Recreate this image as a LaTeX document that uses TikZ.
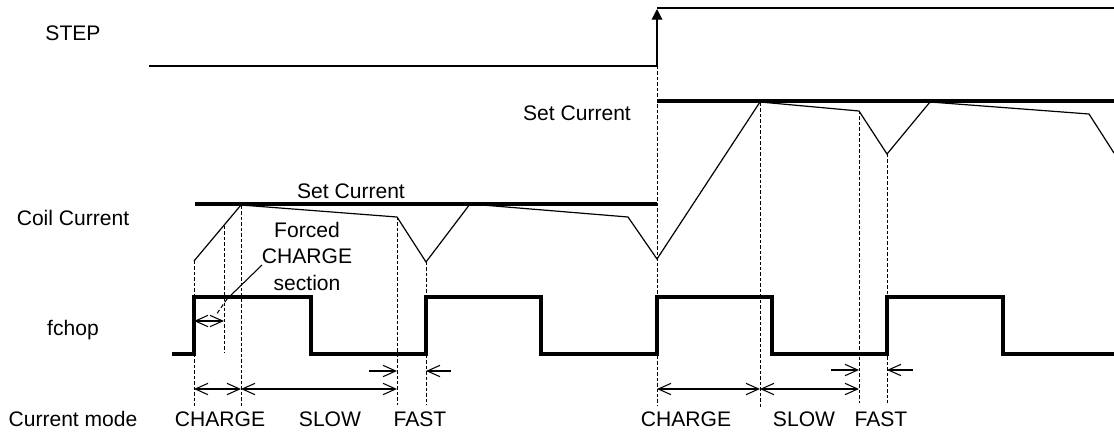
\documentclass[tikz,border=0pt]{standalone}
\usepackage{fontspec}
\setmainfont{Liberation Sans}
\usetikzlibrary{arrows.meta}
\begin{document}
\begin{tikzpicture}[x=0.75pt,y=-0.75pt,
  lbl/.style={font=\fontsize{15.8}{18}\selectfont, inner sep=0pt},
  thin/.style={line width=0.9pt, line join=miter},
  thick2/.style={line width=2.3pt},
  guide/.style={line width=0.7pt, dash pattern=on 2.6pt off 1.5pt},
  dim/.style={line width=0.8pt, {Straight Barb[length=9.5pt,width=8.5pt]}-{Straight Barb[length=9.5pt,width=8.5pt]}},
  dimr/.style={line width=0.8pt, -{Straight Barb[length=9.5pt,width=8.5pt]}}]
\useasboundingbox (0,0) rectangle (1114,433);
% labels
\node[lbl] (lstep) at (73,33) {STEP};
\node[lbl] (lcoil) at (73,218) {Coil Current};
\node[lbl] (lfchop) at (73,330) {fchop};
\node[lbl] (lmode) at (73,419) {Current mode};
% STEP signal
\coordinate (s0) at (149,66);
\coordinate (s1) at (657,66);
\coordinate (s2) at (657,9);
\coordinate (s3) at (657,8);
\coordinate (s4) at (1114,8);
\draw[thin] (s0) -- (s1);
\draw[thin,-{Triangle[length=8pt,width=8pt]}] (s1) -- (s2);
\draw[thin] (s3) -- (s4);
% set current lines
\draw[thick2] (195,204) -- (657,204);
\draw[thick2] (657,101) -- (1114,101);
\node[lbl] (sc1) at (351,191) {Set Current};
\node[lbl] (sc2) at (577,113) {Set Current};
% coil current
\draw[thin] (194,261) -- (241,205) -- (397,217) -- (426,262) -- (470,204) -- (628,217) -- (657,259)
  -- (760,102) -- (859,111) -- (887,154) -- (930,102) -- (1089,114) -- (1114,153);
% fchop
\draw[thick2] (172,354) -- (194,354) -- (194,297) -- (311,297) -- (311,354) -- (426,354) -- (426,297)
  -- (541,297) -- (541,354) -- (657,354) -- (657,297) -- (772,297) -- (772,354) -- (887,354)
  -- (887,297) -- (1003,297) -- (1003,354) -- (1114,354);
% guide lines
\draw[guide] (194,261) -- (194,406);
\draw[guide] (224,226) -- (224,352);
\draw[guide] (241,206) -- (241,406);
\draw[guide] (397,217) -- (397,405);
\draw[guide] (426,262) -- (426,405);
\draw[guide] (657,66) -- (657,405);
\draw[guide] (760,103) -- (760,407);
\draw[guide] (859,111) -- (859,403);
\draw[guide] (887,154) -- (887,403);
% forced charge
\node[lbl, align=center, font=\fontsize{15.8}{19.9}\selectfont] (fc) at (307,256) {Forced\\CHARGE\\section};
\coordinate (fl0) at (262,265);
\coordinate (fl1) at (227,299);
\coordinate (fl2) at (216,315);
\draw[line width=0.8pt] (fl0) -- (fl1);
\draw[line width=0.8pt, dash pattern=on 3pt off 2pt] (fl1) -- (fl2);
\draw[dim] (194,321) -- (224,321);
% mode arrows
\draw[dim] (194,389) -- (241,389);
\draw[dim] (241,389) -- (397,389);
\draw[dimr] (369,371) -- (397,371);
\draw[dimr] (451,371) -- (426,371);
\draw[dim] (657,389) -- (760,389);
\draw[dim] (760,389) -- (859,389);
\draw[dimr] (831,370) -- (859,370);
\draw[dimr] (913,370) -- (887,370);
% mode labels
\node[lbl] (m1) at (220,419) {CHARGE};
\node[lbl] (m2) at (330,419) {SLOW};
\node[lbl] (m3) at (420,419) {FAST};
\node[lbl] (m4) at (686,419) {CHARGE};
\node[lbl] (m5) at (804,419) {SLOW};
\node[lbl] (m6) at (881,419) {FAST};
\end{tikzpicture}
\end{document}
